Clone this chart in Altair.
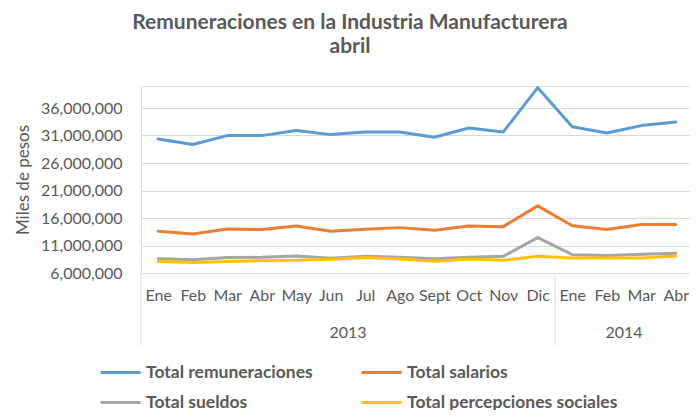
import altair as alt
import pandas as pd

# ---- data (in pesos) ----
months = ["Ene", "Feb", "Mar", "Abr", "May", "Jun", "Jul", "Ago", "Sept", "Oct", "Nov", "Dic",
          "Ene", "Feb", "Mar", "Abr"]
years = ["2013", "2014"]
year_centers = [5.5, 13.5]
year_bounds = [-0.5, 11.5, 15.5]

series = ["Total remuneraciones", "Total salarios", "Total sueldos", "Total percepciones sociales"]
colors = ["#5B9BD5", "#ED7D31", "#A5A5A5", "#FFC000"]
# legend fills column by column, so list them in that order
legend_order = [0, 2, 1, 3]

remuneraciones = [30360000, 29350000, 30980000, 30980000, 31900000, 31160000, 31640000, 31640000,
                  30670000, 32360000, 31640000, 39700000, 32600000, 31450000, 32800000, 33450000]
salarios = [13580000, 13100000, 14000000, 13900000, 14550000, 13580000, 13970000, 14250000,
            13760000, 14550000, 14430000, 18200000, 14600000, 13900000, 14800000, 14800000]
sueldos = [8600000, 8430000, 8800000, 8850000, 9100000, 8670000, 9040000, 8850000,
           8600000, 8850000, 9040000, 12430000, 9340000, 9200000, 9400000, 9580000]
percepciones = [8070000, 7900000, 8100000, 8250000, 8300000, 8490000, 8800000, 8550000,
                8130000, 8550000, 8300000, 9040000, 8730000, 8730000, 8730000, 9100000]

y_ticks = [6000000, 11000000, 16000000, 21000000, 26000000, 31000000, 36000000]

# ---- tables ----
rows = []
for name, vals in zip(series, [remuneraciones, salarios, sueldos, percepciones]):
    for i, v in enumerate(vals):
        rows.append({"idx": i, "mes": months[i], "serie": name, "valor": v})
df = pd.DataFrame(rows)
df_years = pd.DataFrame({"idx": year_centers, "label": years})
df_bounds = pd.DataFrame({"idx": year_bounds})

W = 552
H = 187
FONT = "Lato"
GREY = "#595959"
LIGHT = "#D9D9D9"

xscale = alt.Scale(domain=[-0.5, 15.5], nice=False, zero=False)
label_expr = "[" + ",".join("'%s'" % m for m in months) + "][datum.value]"


def x_axis():
    return alt.Axis(values=list(range(len(months))), labelExpr=label_expr, title=None,
                    grid=False, ticks=False, domainColor=LIGHT, labelPadding=14,
                    labelFontSize=16, labelColor=GREY, labelFont=FONT,
                    labelFlush=False, labelOverlap=False)


leg_domain = [series[i] for i in legend_order]
leg_range = [colors[i] for i in legend_order]

lines = alt.Chart(df).mark_line(strokeWidth=3, strokeCap="round", strokeJoin="round").encode(
    x=alt.X("idx:Q", scale=xscale, axis=x_axis()),
    y=alt.Y("valor:Q", scale=alt.Scale(domain=[6000000, 40000000], nice=False, zero=False),
            axis=alt.Axis(values=y_ticks, format=",.0f", title="Miles de pesos",
                          domain=False, ticks=False, gridColor=LIGHT, labelPadding=19,
                          labelFontSize=16, labelColor=GREY, labelFont=FONT,
                          titleFont=FONT, titleFontSize=17, titleFontWeight="normal",
                          titleColor=GREY, titleX=-118, titleY=H / 2, titleAngle=270,
                          titleAlign="center", titleBaseline="middle")),
    color=alt.Color("serie:N", sort=leg_domain,
                    scale=alt.Scale(domain=leg_domain, range=leg_range),
                    legend=alt.Legend(orient="none", legendX=-42, legendY=265, columns=2,
                                      title=None, symbolType="stroke", symbolSize=1600,
                                      symbolStrokeWidth=3, labelFont=FONT, labelFontSize=17.5,
                                      labelFontWeight="bold", labelColor=GREY, labelOffset=4,
                                      columnPadding=42, rowPadding=-2, padding=0,
                                      labelLimit=400)),
    detail="serie:N",
)

year_text = alt.Chart(df_years).mark_text(font=FONT, fontSize=16, color=GREY, baseline="middle").encode(
    x=alt.X("idx:Q", scale=xscale, axis=x_axis()),
    y=alt.value(H + 60),
    text="label:N",
)

seps = alt.Chart(df_bounds).mark_rule(color=LIGHT, strokeWidth=1).encode(
    x=alt.X("idx:Q", scale=xscale, axis=x_axis()),
    y=alt.value(H),
    y2=alt.value(H + 72),
)

chart = alt.layer(lines, seps, year_text).properties(
    width=W,
    height=H,
    title=alt.TitleParams(text=["Remuneraciones en la Industria Manufacturera", "abril"],
                          anchor="middle", font=FONT, fontSize=21, fontWeight="bold",
                          color=GREY, dx=-67, offset=29, lineHeight=24),
    padding={"left": 133, "top": 78, "right": -3, "bottom": 137},
    autosize=alt.AutoSizeParams(type="none"),
).configure_view(stroke=None).configure(background="white")

chart.save("out.html", embed_options={"renderer": "svg", "actions": False})
